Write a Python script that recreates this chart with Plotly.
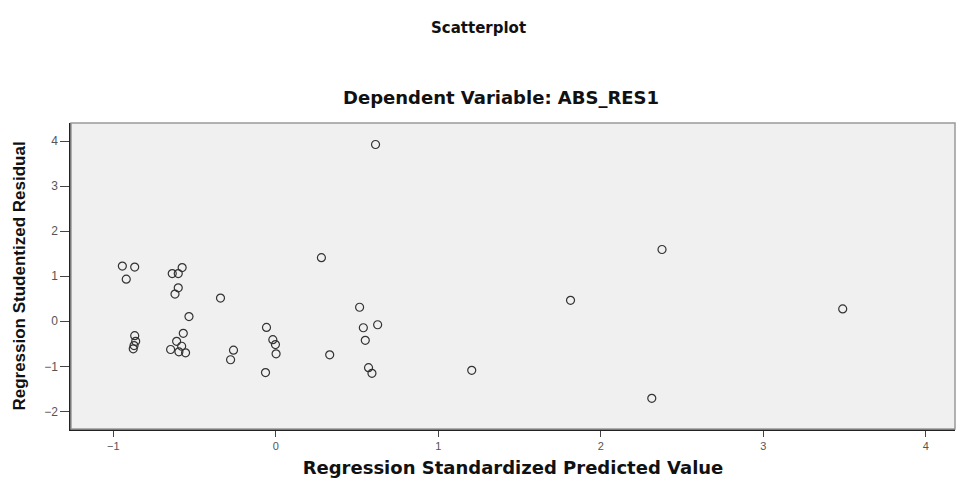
import plotly.graph_objects as go

pred = [-0.944, -0.868, -0.92, -0.637, -0.576, -0.600, -0.600, -0.620, -0.340, 0.281,
        -0.534, -0.868, -0.862, -0.872, -0.877, -0.569, -0.610, -0.579, -0.647, -0.596,
        -0.555, -0.057, -0.018, -0.002, 0.002, -0.260, -0.278, -0.063, 0.332, 0.614,
        2.377, 1.814, 0.516, 0.539, 0.627, 0.551, 0.571, 0.592, 1.206, 2.314, 3.489]
resid = [1.226, 1.204, 0.934, 1.059, 1.191, 1.059, 0.743, 0.604, 0.516, 1.411,
         0.105, -0.319, -0.444, -0.538, -0.611, -0.268, -0.444, -0.554, -0.626, -0.677,
         -0.699, -0.136, -0.407, -0.516, -0.721, -0.642, -0.853, -1.138, -0.743, 3.923,
         1.593, 0.466, 0.312, -0.143, -0.077, -0.422, -1.029, -1.154, -1.088, -1.710, 0.275]
x_ticks = [-1, 0, 1, 2, 3, 4]
y_ticks = [-2, -1, 0, 1, 2, 3, 4]

fig = go.Figure()
fig.add_trace(go.Scatter(
    x=pred, y=resid, mode="markers",
    marker=dict(symbol="circle-open", size=8, color="#333333", line=dict(width=1.2)),
    showlegend=False,
))

font_f = "Liberation Sans, Arial, sans-serif"
wide_f = "DejaVu Sans, Verdana, sans-serif"
fig.update_layout(
    width=959, height=478,
    margin=dict(l=71, r=4, t=123, b=49),
    paper_bgcolor="white", plot_bgcolor="#f0f0f0",
    font=dict(family=font_f, color="#222222"),
    xaxis=dict(range=[-1.26, 4.18], tickvals=x_ticks, ticks="outside", ticklen=6,
               tickcolor="#444", showgrid=False, zeroline=False, showline=True,
               linecolor="#222", linewidth=1.5, automargin=False,
               tickfont=dict(size=11, color="#555"),
               title=dict(text="<b>Regression Standardized Predicted Value</b>",
                          font=dict(size=18, color="#111", family=wide_f), standoff=12)),
    yaxis=dict(range=[-2.39, 4.40], tickvals=y_ticks, ticks="outside", ticklen=9,
               tickcolor="#444", showgrid=False, zeroline=False, showline=True,
               linecolor="#222", linewidth=1.5, automargin=False,
               tickfont=dict(size=12, color="#555"),
               title=dict(text="<b>Regression Studentized Residual</b>",
                          font=dict(size=17, color="#111"), standoff=14)),
    shapes=[dict(type="rect", xref="paper", yref="paper", x0=0, x1=1, y0=0, y1=1,
                 line=dict(color="#999999", width=1.5), fillcolor="rgba(0,0,0,0)")],
    annotations=[
        dict(text="<b>Scatterplot</b>", xref="paper", yref="paper", x=0.4615, y=1,
             yshift=95, showarrow=False, font=dict(size=15, color="#111", family=wide_f),
             yanchor="middle"),
        dict(text="<b>Dependent Variable: ABS_RES1</b>", xref="paper", yref="paper",
             x=0.486, y=1, yshift=26, showarrow=False,
             font=dict(size=18, color="#111", family=wide_f), yanchor="middle"),
    ],
)
fig.write_html("out.html", config={"displayModeBar": False},
               post_script="document.body.style.margin='0';")
